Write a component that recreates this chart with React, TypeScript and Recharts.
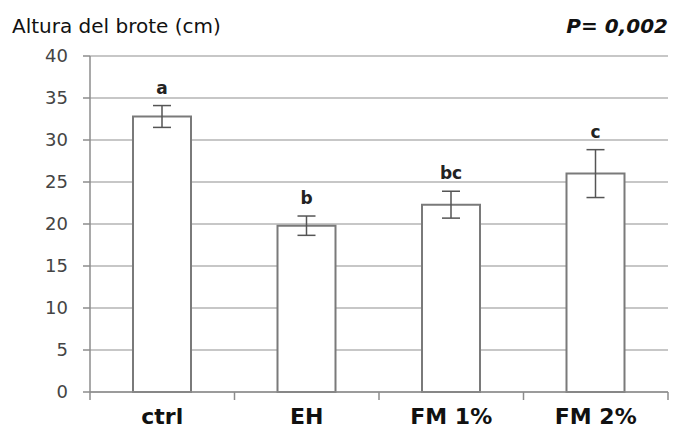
import React from 'react';
import { BarChart, Bar, XAxis, YAxis, CartesianGrid, ErrorBar, LabelList } from 'recharts';

const categories = ['ctrl', 'EH', 'FM 1%', 'FM 2%'];
const means = [32.8, 19.8, 22.3, 26.0];
const errors = [1.3, 1.15, 1.6, 2.85];
const letters = ['a', 'b', 'bc', 'c'];
const yTicks = [0, 5, 10, 15, 20, 25, 30, 35, 40];
const yTitle = 'Altura del brote (cm)';
const pLabel = 'P= 0,002';

const data = categories.map((c, i) => ({ name: c, mean: means[i], err: errors[i], letter: letters[i] }));

const AXIS = '#8c8c8c';
const FONT = '"DejaVu Sans", sans-serif';

const XTick = (props: any) => {
  const { x, y, payload, index } = props;
  const off = payload && typeof payload.offset === 'number' ? payload.offset : 0;
  return (
    <g>
      {index === 0 && off > 0 && (
        <line x1={x - off} x2={x - off} y1={y - 8} y2={y} stroke={AXIS} strokeWidth={1.5} />
      )}
      {off > 0 && <line x1={x + off} x2={x + off} y1={y - 8} y2={y} stroke={AXIS} strokeWidth={1.5} />}
      <text x={x} y={y + 24} textAnchor="middle" fontFamily={FONT} fontWeight="bold" fontSize={22} fill="#111">
        {payload.value}
      </text>
    </g>
  );
};

const LetterLabel = (props: any) => {
  const { x, y, width, height, index, value } = props;
  const d = data[index];
  if (!d) return null;
  const pxPerUnit = height / d.mean;
  const top = y - d.err * pxPerUnit;
  return (
    <text x={x + width / 2} y={top - 12} textAnchor="middle" fontFamily={FONT} fontWeight="bold" fontSize={17} fill="#222">
      {value}
    </text>
  );
};

export default function App() {
  return (
    <div style={{ position: 'absolute', left: 0, top: 0, width: 690, height: 430, background: '#fff' }}>
      <BarChart width={690} height={430} data={data} margin={{ top: 56, right: 22, bottom: 0, left: 0 }}>
        <CartesianGrid vertical={false} stroke="#b4b4b4" strokeWidth={1.5} />
        <YAxis
          domain={[0, 40]}
          ticks={yTicks}
          width={90}
          tickSize={7}
          tickMargin={15}
          axisLine={{ stroke: AXIS, strokeWidth: 1.5 }}
          tickLine={{ stroke: AXIS, strokeWidth: 1.5 }}
          tick={{ fontFamily: FONT, fontSize: 18, fill: '#444' }}
          interval={0}
        />
        <XAxis
          dataKey="name"
          height={38}
          tickSize={8}
          tickMargin={0}
          tickLine={false}
          axisLine={{ stroke: AXIS, strokeWidth: 1.5 }}
          tick={<XTick />}
          interval={0}
        />
        <Bar dataKey="mean" barSize={58} fill="#ffffff" stroke="#7a7a7a" strokeWidth={2} isAnimationActive={false}>
          <ErrorBar dataKey="err" width={9} stroke="#555" strokeWidth={1.5} isAnimationActive={false} />
          <LabelList dataKey="letter" content={<LetterLabel />} />
        </Bar>
      </BarChart>
      <svg width={690} height={430} style={{ position: 'absolute', left: 0, top: 0, pointerEvents: 'none' }}>
        <text x={12} y={33} fontFamily={FONT} fontSize={20} fill="#111">{yTitle}</text>
        <text x={668} y={33} textAnchor="end" fontFamily={FONT} fontSize={20} fontWeight="bold" fontStyle="italic" fill="#111">
          {pLabel}
        </text>
      </svg>
    </div>
  );
}
